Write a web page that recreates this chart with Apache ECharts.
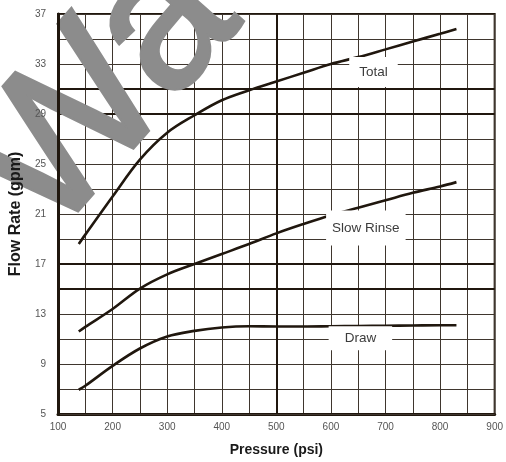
<!DOCTYPE html>
<html>
<head>
<meta charset="utf-8">
<script src="https://cdn.jsdelivr.net/npm/echarts@6/dist/echarts.min.js"></script>
<style>
  html, body { margin: 0; padding: 0; background: #fff; }
  #chart { width: 506px; height: 462px; }
</style>
</head>
<body>
<div id="chart"></div>
<script>
// Pump flow curves: flow rate versus pressure for three operating modes
const pressure      = [138, 150, 200, 250, 300, 350, 400, 450, 500, 550, 600, 650, 700, 750, 800, 830];
const totalFlow     = [18.6, 19.35, 22.4, 25.35, 27.5, 28.9, 30.1, 30.9, 31.6, 32.3, 33.0, 33.55, 34.17, 34.8, 35.42, 35.8];
const slowRinseFlow = [11.6, 11.97, 13.4, 15.03, 16.17, 17.0, 17.8, 18.6, 19.45, 20.2, 20.9, 21.5, 22.1, 22.7, 23.2, 23.55];
const drawFlow      = [6.94, 7.26, 8.85, 10.24, 11.2, 11.65, 11.92, 12.02, 12.0, 12.0, 12.02, 12.04, 12.06, 12.08, 12.1, 12.1];

const xTicks = [100, 200, 300, 400, 500, 600, 700, 800, 900];
const yTicks = [5, 9, 13, 17, 21, 25, 29, 33, 37];

// grid rows every 2 gpm; a few rows and one column are drawn heavier
const heavyRows = [15, 17, 29, 31];
const heavyColumns = [500];

// where each curve name sits (pressure, flow)
const curveNames = [
  { name: 'Total',      at: [678, 32.37] },
  { name: 'Slow Rinse', at: [664, 19.88] },
  { name: 'Draw',       at: [654, 11.06] }
];

const FONT = '"Liberation Sans", Arial, sans-serif';
const INK = '#20170e';
const THIN = '#3f362e';

const rowValues = [];
for (let v = yTicks[0]; v <= yTicks[yTicks.length - 1]; v += 2) rowValues.push(v);

const pairs = (ys) => pressure.map((p, i) => [p, ys[i]]);

// white plate behind each curve name, clearing the grid around it
const plates = { 'Total': [4, 10, 12, 10], 'Slow Rinse': [12, 6, 9, 6], 'Draw': [6, 16, 4, 16] };

const chart = echarts.init(document.getElementById('chart'), null, { renderer: 'canvas' });

const curve = (name, ys) => ({
  name, type: 'line', data: pairs(ys), smooth: 0.35, symbol: 'none', z: 3,
  lineStyle: { color: INK, width: 2.6 }
});

chart.setOption({
  animation: false,
  backgroundColor: '#fff',
  grid: {
    left: 54, right: 9, top: 14, bottom: 46,
    show: true, borderColor: INK, borderWidth: 2, backgroundColor: '#fff'
  },
  xAxis: {
    type: 'value', min: xTicks[0], max: xTicks[xTicks.length - 1], interval: 100,
    axisLine: { show: true, onZero: false, lineStyle: { color: INK, width: 3 } },
    axisTick: { show: false },
    axisLabel: { fontFamily: FONT, fontSize: 10, color: '#555', margin: 8 },
    splitLine: { show: true, lineStyle: { color: THIN, width: 1 } },
    minorTick: { show: false, splitNumber: 2 },
    minorSplitLine: { show: true, lineStyle: { color: THIN, width: 1 } },
    name: 'Pressure (psi)', nameLocation: 'middle', nameGap: 29,
    nameTextStyle: { fontFamily: FONT, fontSize: 14, fontWeight: 'bold', color: '#1a1a1a' }
  },
  yAxis: {
    type: 'value', min: yTicks[0], max: yTicks[yTicks.length - 1], z: 10,
    axisLine: { show: true, onZero: false, lineStyle: { color: INK, width: 3 } },
    axisTick: { show: false },
    splitLine: { show: false },
    axisLabel: { customValues: yTicks, fontFamily: FONT, fontSize: 10, color: '#555', margin: 12 },
    name: 'Flow Rate (gpm)', nameLocation: 'middle', nameGap: 34, nameRotate: 90,
    nameTextStyle: { fontFamily: FONT, fontSize: 16, fontWeight: 'bold', color: '#1a1a1a' }
  },
  series: [
    {
      name: 'rows', type: 'line', data: [], silent: true,
      markLine: {
        silent: true, symbol: 'none', z: 1, animation: false,
        label: { show: false },
        data: rowValues.map(v => ({
          yAxis: v,
          lineStyle: { type: 'solid', color: heavyRows.includes(v) ? INK : THIN, width: heavyRows.includes(v) ? 2 : 1 }
        })).concat(heavyColumns.map(v => ({
          xAxis: v,
          lineStyle: { type: 'solid', color: INK, width: 2 }
        })))
      }
    },
    curve('Total', totalFlow),
    curve('Slow Rinse', slowRinseFlow),
    curve('Draw', drawFlow),
    {
      name: 'curve names', type: 'scatter', symbolSize: 0, z: 4, silent: true,
      itemStyle: { opacity: 1 },
      data: curveNames.map(c => ({ name: c.name, value: c.at, label: { padding: plates[c.name] } })),
      label: {
        show: true, position: 'inside', formatter: '{b}',
        fontFamily: FONT, fontSize: 13.5, color: '#3c3c3c',
        backgroundColor: '#fff', opacity: 1
      }
    }
  ],
  graphic: [{
    type: 'text', x: 9, y: 205, rotation: 0.85, z: 5, silent: true,
    style: {
      text: 'Wa', font: '200px ' + FONT, fill: '#8c8c8c',
      stroke: '#8c8c8c', lineWidth: 4, lineJoin: 'miter',
      align: 'left', verticalAlign: 'middle'
    }
  }]
});
</script>
</body>
</html>
